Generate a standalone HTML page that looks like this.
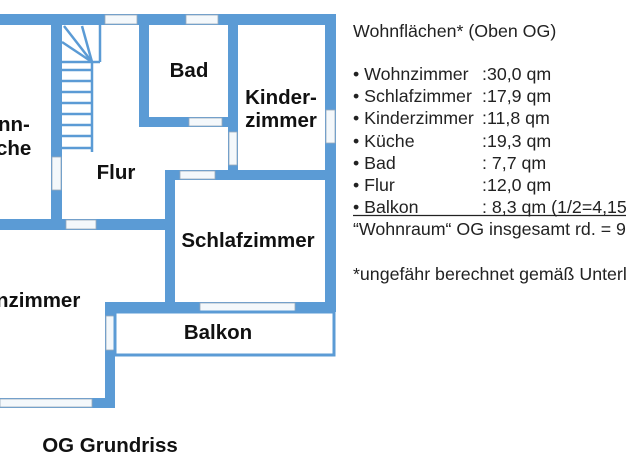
<!DOCTYPE html>
<html><head><meta charset="utf-8"><style>
html,body{margin:0;padding:0;background:#fff;width:626px;height:470px;overflow:hidden}
svg{display:block}
.l{font-family:"Liberation Sans",sans-serif;font-weight:bold;font-size:20.5px;fill:#111}
.t{font-family:"Liberation Sans",sans-serif;font-size:17.8px;fill:#222}
</style></head><body>
<svg width="626" height="470" xmlns="http://www.w3.org/2000/svg">
<g fill="#5b9bd5">
<rect x="0" y="14" width="336" height="11"/>
<rect x="325" y="14" width="11" height="298"/>
<rect x="51" y="14" width="11" height="216"/>
<rect x="0" y="219" width="175" height="11"/>
<rect x="139" y="14" width="10" height="113"/>
<rect x="139" y="117" width="99" height="10"/>
<rect x="228" y="14" width="10" height="166"/>
<rect x="165" y="170" width="171" height="10"/>
<rect x="165" y="170" width="10" height="142"/>
<rect x="105" y="302" width="231" height="10"/>
<rect x="105" y="302" width="10" height="106"/>
<rect x="0" y="398" width="115" height="10"/>
</g>
<g fill="#f4f8fb" stroke="#9ab" stroke-width="0.8">
<rect x="105" y="15" width="32" height="9"/>
<rect x="186" y="15" width="32" height="9"/>
<rect x="52" y="157" width="9" height="33"/>
<rect x="66" y="220" width="30" height="9"/>
<rect x="189" y="118" width="33" height="8"/>
<rect x="229" y="132" width="8" height="33"/>
<rect x="180" y="171" width="35" height="8"/>
<rect x="326" y="110" width="9" height="33"/>
<rect x="200" y="303" width="95" height="8"/>
<rect x="106" y="316" width="8" height="34"/>
<rect x="0" y="399" width="92" height="8"/>
</g>
<rect x="115" y="312" width="219" height="43" fill="none" stroke="#5b9bd5" stroke-width="3"/>
<g stroke="#5b9bd5" stroke-width="2.5" fill="none">
<line x1="92" y1="62" x2="92" y2="152"/>
<line x1="100" y1="25" x2="100" y2="62"/>
<line x1="62" y1="62" x2="100" y2="62"/>
<line x1="92" y1="62" x2="64" y2="26"/>
<line x1="92" y1="62" x2="82" y2="26"/>
<line x1="92" y1="62" x2="62" y2="42"/>
<line x1="62" y1="70" x2="92" y2="70"/>
<line x1="62" y1="81" x2="92" y2="81"/>
<line x1="62" y1="92" x2="92" y2="92"/>
<line x1="62" y1="103" x2="92" y2="103"/>
<line x1="62" y1="114" x2="92" y2="114"/>
<line x1="62" y1="125" x2="92" y2="125"/>
<line x1="62" y1="136" x2="92" y2="136"/>
<line x1="62" y1="148" x2="92" y2="148"/>
</g>
<text class="l" x="189" y="77" text-anchor="middle">Bad</text>
<text class="l" x="281" y="104" text-anchor="middle">Kinder-</text>
<text class="l" x="281" y="127" text-anchor="middle">zimmer</text>
<text class="l" x="116" y="179" text-anchor="middle">Flur</text>
<text class="l" x="248" y="247" text-anchor="middle">Schlafzimmer</text>
<text class="l" x="218" y="339" text-anchor="middle">Balkon</text>
<text class="l" x="-2" y="131">nn-</text>
<text class="l" x="-4" y="155">che</text>
<text class="l" x="-4" y="307">nzimmer</text>
<text class="l" x="110" y="452" text-anchor="middle">OG Grundriss</text>
<text class="t" x="353" y="37">Wohnflächen* (Oben OG)</text>
<text class="t" x="353" y="80">• Wohnzimmer</text><text class="t" x="482" y="80">:30,0 qm</text>
<text class="t" x="353" y="102">• Schlafzimmer</text><text class="t" x="482" y="102">:17,9 qm</text>
<text class="t" x="353" y="124">• Kinderzimmer</text><text class="t" x="482" y="124">:11,8 qm</text>
<text class="t" x="353" y="147">• Küche</text><text class="t" x="482" y="147">:19,3 qm</text>
<text class="t" x="353" y="169">• Bad</text><text class="t" x="482" y="169">: 7,7 qm</text>
<text class="t" x="353" y="191">• Flur</text><text class="t" x="482" y="191">:12,0 qm</text>
<text class="t" x="353" y="213">• Balkon</text><text class="t" x="482" y="213">: 8,3 qm (1/2=4,15 qm)</text>
<text class="t" x="353" y="235">“Wohnraum“ OG insgesamt rd. = 95 qm</text>
<text class="t" x="353" y="280">*ungefähr berechnet gemäß Unterlagen</text>
<line x1="353" y1="215.5" x2="626" y2="215.5" stroke="#222" stroke-width="1.2"/>
</svg>
</body></html>
